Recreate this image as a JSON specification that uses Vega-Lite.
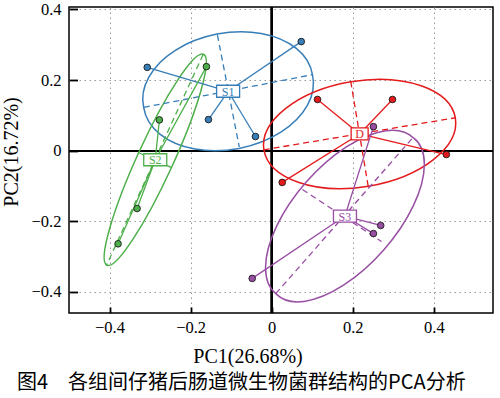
{
  "$schema": "https://vega.github.io/schema/vega-lite/v6.json",
  "width": 424,
  "height": 306,
  "autosize": "none",
  "padding": {"left": 69, "top": 7, "right": 7, "bottom": 85},
  "background": "white",
  "config": {
    "view": {"stroke": "black", "strokeWidth": 1.5},
    "numberFormat": ".1~f",
    "axis": {
      "domain": false,
      "grid": true,
      "gridColor": "#9a9a9a",
      "gridDash": [1.5, 3.5],
      "gridWidth": 1,
      "tickCount": 5,
      "tickColor": "black",
      "tickWidth": 1.8,
      "labelFont": "Liberation Serif",
      "labelFontSize": 16.5,
      "labelColor": "black",
      "labelFlush": false,
      "labelOverlap": false,
      "titleFont": "Liberation Serif",
      "titleFontSize": 20,
      "titleFontWeight": "normal",
      "titleColor": "black"
    },
    "axisX": {
      "tickSize": -6,
      "labelPadding": 25,
      "labelBaseline": "alphabetic",
      "titleX": 178.5,
      "titleY": 49,
      "titleAlign": "center",
      "titleBaseline": "alphabetic"
    },
    "axisY": {
      "tickSize": -8.5,
      "labelPadding": 16.5,
      "titleX": -52,
      "titleY": 144.5,
      "titleAngle": 270,
      "titleAlign": "center",
      "titleBaseline": "alphabetic"
    }
  },
  "title": {
    "text": "图4　各组间仔猪后肠道微生物菌群结构的PCA分析",
    "orient": "bottom",
    "anchor": "start",
    "frame": "group",
    "dx": -52,
    "offset": 23,
    "font": "Noto Sans CJK SC",
    "fontSize": 20,
    "fontWeight": "normal",
    "baseline": "alphabetic",
    "color": "black"
  },
  "datasets": {
    "points": [
      {"group": "S1", "pc1": -0.307, "pc2": 0.236},
      {"group": "S1", "pc1": -0.156, "pc2": 0.088},
      {"group": "S1", "pc1": -0.040, "pc2": 0.040},
      {"group": "S1", "pc1": 0.073, "pc2": 0.309},
      {"group": "S2", "pc1": -0.161, "pc2": 0.238},
      {"group": "S2", "pc1": -0.277, "pc2": 0.087},
      {"group": "S2", "pc1": -0.332, "pc2": -0.164},
      {"group": "S2", "pc1": -0.379, "pc2": -0.264},
      {"group": "D", "pc1": 0.113, "pc2": 0.145},
      {"group": "D", "pc1": 0.298, "pc2": 0.145},
      {"group": "D", "pc1": 0.431, "pc2": -0.011},
      {"group": "D", "pc1": 0.026, "pc2": -0.090},
      {"group": "S3", "pc1": 0.251, "pc2": 0.068},
      {"group": "S3", "pc1": 0.269, "pc2": -0.212},
      {"group": "S3", "pc1": 0.251, "pc2": -0.235},
      {"group": "S3", "pc1": -0.048, "pc2": -0.362}
    ],
    "axes": [
      {"group": "S1", "axis": "major", "x1": -0.3153, "y1": 0.1226, "x2": 0.1015, "y2": 0.2155},
      {"group": "S1", "axis": "minor", "x1": -0.1338, "y1": 0.3277, "x2": -0.0800, "y2": 0.0103},
      {"group": "S2", "axis": "major", "x1": -0.1691, "y1": 0.2725, "x2": -0.4077, "y2": -0.3254},
      {"group": "S2", "axis": "minor", "x1": -0.3289, "y1": -0.0052, "x2": -0.2479, "y2": -0.0477},
      {"group": "D", "axis": "major", "x1": -0.0198, "y1": 0.0024, "x2": 0.4528, "y2": 0.0931},
      {"group": "D", "axis": "minor", "x1": 0.1951, "y1": 0.1959, "x2": 0.2380, "y2": -0.1005},
      {"group": "S3", "axis": "major", "x1": 0.0101, "y1": -0.4051, "x2": 0.3489, "y2": 0.0375},
      {"group": "S3", "axis": "minor", "x1": 0.0758, "y1": -0.1101, "x2": 0.2709, "y2": -0.2574}
    ]
  },
  "layer": [
    {
      "data": {"name": "points"},
      "mark": {"type": "rule", "color": "black", "strokeWidth": 1.5},
      "encoding": {
        "x": {"datum": 0, "type": "quantitative", "scale": {"domain": [-0.5, 0.546], "nice": false, "zero": false}}
      }
    },
    {
      "data": {"name": "points"},
      "mark": {"type": "rule", "color": "black", "strokeWidth": 1.5},
      "encoding": {
        "y": {"datum": 0, "type": "quantitative", "scale": {"domain": [-0.46, 0.407], "nice": false, "zero": false}}
      }
    },
    {
      "data": {"name": "points"},
      "transform": [
        {"aggregate": [{"op": "mean", "field": "pc1", "as": "cx"}, {"op": "mean", "field": "pc2", "as": "cy"}], "groupby": ["group"]}
      ],
      "mark": {"type": "point", "filled": false, "size": 4, "strokeWidth": 1.5, "opacity": 1},
      "encoding": {
        "x": {"field": "cx", "type": "quantitative", "title": "PC1(26.68%)", "scale": {"domain": [-0.5, 0.546], "nice": false, "zero": false}},
        "y": {"field": "cy", "type": "quantitative", "title": "PC2(16.72%)", "scale": {"domain": [-0.46, 0.407], "nice": false, "zero": false}},
        "stroke": {"field": "group", "type": "nominal", "legend": null, "scale": {"domain": ["S1", "S2", "D", "S3"], "range": ["#377eb8", "#4daf4a", "#e41a1c", "#984ea3"]}},
        "shape": {"field": "group", "type": "nominal", "legend": null, "scale": {"domain": ["S1", "S2", "D", "S3"], "range": [
          "M 84.4 -16.4 A 86 57 -11 1 1 -84.4 16.4 A 86 57 -11 1 1 84.4 -16.4 Z",
          "M 48.3 -105.5 A 116 18 -65.4 1 1 -48.3 105.5 A 116 18 -65.4 1 1 48.3 -105.5 Z",
          "M 95.7 -16 A 97 53 -9.5 1 1 -95.7 16 A 97 53 -9.5 1 1 95.7 -16 Z",
          "M 68.6 -78.1 A 104 50 -48.7 1 1 -68.6 78.1 A 104 50 -48.7 1 1 68.6 -78.1 Z"
        ]}}
      }
    },
    {
      "data": {"name": "axes"},
      "mark": {"type": "rule", "strokeWidth": 1.3, "strokeDash": [6, 4]},
      "encoding": {
        "x": {"field": "x1", "type": "quantitative", "title": "PC1(26.68%)", "scale": {"domain": [-0.5, 0.546], "nice": false, "zero": false}},
        "y": {"field": "y1", "type": "quantitative", "title": "PC2(16.72%)", "scale": {"domain": [-0.46, 0.407], "nice": false, "zero": false}},
        "x2": {"field": "x2"},
        "y2": {"field": "y2"},
        "stroke": {"field": "group", "type": "nominal", "legend": null, "scale": {"domain": ["S1", "S2", "D", "S3"], "range": ["#377eb8", "#4daf4a", "#e41a1c", "#984ea3"]}}
      }
    },
    {
      "data": {"name": "points"},
      "transform": [
        {"joinaggregate": [{"op": "mean", "field": "pc1", "as": "cx"}, {"op": "mean", "field": "pc2", "as": "cy"}], "groupby": ["group"]}
      ],
      "mark": {"type": "rule", "strokeWidth": 1.3},
      "encoding": {
        "x": {"field": "pc1", "type": "quantitative", "title": "PC1(26.68%)", "scale": {"domain": [-0.5, 0.546], "nice": false, "zero": false}},
        "y": {"field": "pc2", "type": "quantitative", "title": "PC2(16.72%)", "scale": {"domain": [-0.46, 0.407], "nice": false, "zero": false}},
        "x2": {"field": "cx"},
        "y2": {"field": "cy"},
        "stroke": {"field": "group", "type": "nominal", "legend": null, "scale": {"domain": ["S1", "S2", "D", "S3"], "range": ["#377eb8", "#4daf4a", "#e41a1c", "#984ea3"]}}
      }
    },
    {
      "data": {"name": "points"},
      "mark": {"type": "point", "filled": true, "size": 44, "stroke": "#1a1a1a", "strokeWidth": 0.9, "opacity": 1},
      "encoding": {
        "x": {"field": "pc1", "type": "quantitative", "title": "PC1(26.68%)", "scale": {"domain": [-0.5, 0.546], "nice": false, "zero": false}},
        "y": {"field": "pc2", "type": "quantitative", "title": "PC2(16.72%)", "scale": {"domain": [-0.46, 0.407], "nice": false, "zero": false}},
        "fill": {"field": "group", "type": "nominal", "legend": null, "scale": {"domain": ["S1", "S2", "D", "S3"], "range": ["#377eb8", "#4daf4a", "#e41a1c", "#984ea3"]}}
      }
    },
    {
      "data": {"name": "points"},
      "transform": [
        {"aggregate": [{"op": "mean", "field": "pc1", "as": "cx"}, {"op": "mean", "field": "pc2", "as": "cy"}], "groupby": ["group"]}
      ],
      "mark": {"type": "point", "filled": false, "fill": "white", "fillOpacity": 1, "size": 4, "strokeWidth": 1.3, "opacity": 1},
      "encoding": {
        "x": {"field": "cx", "type": "quantitative", "title": "PC1(26.68%)", "scale": {"domain": [-0.5, 0.546], "nice": false, "zero": false}},
        "y": {"field": "cy", "type": "quantitative", "title": "PC2(16.72%)", "scale": {"domain": [-0.46, 0.407], "nice": false, "zero": false}},
        "stroke": {"field": "group", "type": "nominal", "legend": null, "scale": {"domain": ["S1", "S2", "D", "S3"], "range": ["#377eb8", "#4daf4a", "#e41a1c", "#984ea3"]}},
        "shape": {"field": "group", "type": "nominal", "legend": null, "scale": {"domain": ["S1", "S2", "D", "S3"], "range": [
          "M -11.5 -6 L 11.5 -6 L 11.5 6 L -11.5 6 Z",
          "M -11.5 -6 L 11.5 -6 L 11.5 6 L -11.5 6 Z",
          "M -8.5 -6 L 8.5 -6 L 8.5 6 L -8.5 6 Z",
          "M -11.5 -6 L 11.5 -6 L 11.5 6 L -11.5 6 Z"
        ]}}
      }
    },
    {
      "data": {"name": "points"},
      "transform": [
        {"aggregate": [{"op": "mean", "field": "pc1", "as": "cx"}, {"op": "mean", "field": "pc2", "as": "cy"}], "groupby": ["group"]}
      ],
      "mark": {"type": "text", "font": "Liberation Serif", "fontSize": 12, "align": "center", "baseline": "middle", "dy": 0.5},
      "encoding": {
        "x": {"field": "cx", "type": "quantitative", "title": "PC1(26.68%)", "scale": {"domain": [-0.5, 0.546], "nice": false, "zero": false}},
        "y": {"field": "cy", "type": "quantitative", "title": "PC2(16.72%)", "scale": {"domain": [-0.46, 0.407], "nice": false, "zero": false}},
        "text": {"field": "group", "type": "nominal"},
        "color": {"field": "group", "type": "nominal", "legend": null, "scale": {"domain": ["S1", "S2", "D", "S3"], "range": ["#377eb8", "#4daf4a", "#e41a1c", "#984ea3"]}}
      }
    }
  ],
  "resolve": {"scale": {"shape": "independent"}}
}
